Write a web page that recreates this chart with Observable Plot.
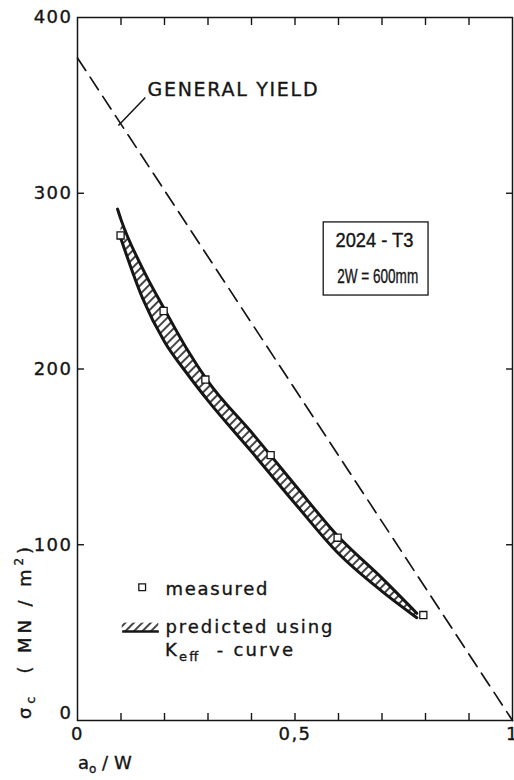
<!DOCTYPE html>
<html><head><meta charset="utf-8">
<script src="https://cdn.jsdelivr.net/npm/d3@7"></script>
<script src="https://cdn.jsdelivr.net/npm/@observablehq/plot@0.6"></script>
<style>
body{margin:0;background:#fff;}
g[aria-label$="tick label"] text{letter-spacing:1.5px;}
svg text{stroke:#151515;stroke-width:0.35px;}
</style>
</head><body><div id="chart"></div>
<script>
// Data
const bandX  = [0.1, 0.15, 0.2, 0.25, 0.3, 0.4, 0.5, 0.6, 0.7, 0.78];
const upperY = [285, 257, 234, 212, 193, 164, 134, 104.5, 81, 61];
const lowerY = [274, 240, 215.5, 198, 182, 153, 123.5, 95, 73.5, 58.5];
const upperStartX = 0.092, upperStartY = 291;
const measuredX = [0.099, 0.198, 0.294, 0.444, 0.598, 0.795];
const measuredY = [276, 233, 194, 151, 104, 60];
const yieldX = [0, 1];
const yieldY = [377, 0];
const xTickLabels = [0, 0.5, 1];
const yTickLabels = [100, 200, 300, 400];
const xMinorTicks = [0.1, 0.2, 0.3, 0.4, 0.5, 0.6, 0.7, 0.8, 0.9];
const yMinorTicks = [100, 200, 300];

const band = bandX.map((x, i) => ({x, lo: lowerY[i], hi: upperY[i]}));
const upperLine = [{x: upperStartX, y: upperStartY}, ...bandX.map((x, i) => ({x, y: upperY[i]}))];
const lowerLine = bandX.map((x, i) => ({x, y: lowerY[i]}));
const measured = measuredX.map((x, i) => ({x, y: measuredY[i]}));
const yieldLine = yieldX.map((x, i) => ({x, y: yieldY[i]}));

const ink = "#151515";
const fmt = d => d === 0.5 ? "0,5" : String(d);
const crv = "monotone-x";

const plot = Plot.plot({
  width: 514, height: 780,
  marginLeft: 77, marginRight: 2, marginTop: 17, marginBottom: 60,
  x: {domain: [0, 1]},
  y: {domain: [0, 400]},
  style: {fontFamily: "DejaVu Sans", fontSize: "18px", color: ink, background: "white", overflow: "visible"},
  marks: [
    Plot.frame({stroke: ink, strokeWidth: 1.5}),
    Plot.axisX({anchor: "bottom", ticks: xMinorTicks, tickSize: 7, dy: -7, tickFormat: () => "", label: null, strokeWidth: 1.4}),
    Plot.axisX({anchor: "top", ticks: xMinorTicks, tickSize: 7, dy: 7, tickFormat: () => "", label: null, strokeWidth: 1.4}),
    Plot.axisY({anchor: "left", ticks: yMinorTicks, tickSize: 7, dx: 7, tickFormat: () => "", label: null, strokeWidth: 1.4}),
    Plot.axisY({anchor: "right", ticks: yMinorTicks, tickSize: 7, dx: -7, tickFormat: () => "", label: null, strokeWidth: 1.4}),
    Plot.axisX({anchor: "bottom", ticks: xTickLabels, tickSize: 0, tickPadding: 7, tickFormat: fmt, label: null, fontSize: 18}),
    Plot.axisY({anchor: "left", ticks: yTickLabels, tickSize: 0, tickPadding: 5, label: null, fontSize: 18}),
    Plot.axisY({anchor: "left", ticks: [0], tickSize: 0, tickPadding: 5, dy: -7, label: null, fontSize: 18}),
    // general yield
    Plot.line(yieldLine, {x: "x", y: "y", stroke: ink, strokeWidth: 1.7, strokeDasharray: "15,8"}),
    Plot.link([0], {x1: 0.094, y1: 338.5, x2: 0.156, y2: 354.5, stroke: ink, strokeWidth: 1.5}),
    Plot.text(["GENERAL YIELD"], {x: 0.161, y: 358.8, text: d => d, textAnchor: "start", fontSize: 19, fill: ink}),
    // band
    Plot.areaY(band, {x: "x", y1: "lo", y2: "hi", fill: "url(#hatch)", curve: crv}),
    Plot.line(upperLine, {x: "x", y: "y", stroke: ink, strokeWidth: 3, curve: crv}),
    Plot.line(lowerLine, {x: "x", y: "y", stroke: ink, strokeWidth: 3, curve: crv}),
    Plot.dot(measured, {x: "x", y: "y", symbol: "square", r: 4, fill: "white", stroke: ink, strokeWidth: 1.3}),
    // material box
    Plot.rect([0], {x1: 0.566, x2: 0.807, y1: 241.8, y2: 283.4, fill: "none", stroke: ink, strokeWidth: 1.3}),
    Plot.text(["2024 - T3"], {x: 0.593, y: 272.8, text: d => d, textAnchor: "start", fontSize: 20, fontFamily: "Liberation Sans", fill: ink}),
    Plot.text(["2W = 600mm"], {x: 0.597, y: 252.3, text: d => d, textAnchor: "start", fontSize: 20, fontFamily: "Liberation Sans", fill: ink}),
    // legend
    Plot.dot([0], {x: 0.1487, y: 75.8, symbol: "square", r: 3.8, fill: "white", stroke: ink, strokeWidth: 1.3}),
    Plot.text(["measured"], {x: 0.2023, y: 74.5, text: d => d, textAnchor: "start", fontSize: 18, fill: ink}),
    Plot.rect([0], {x1: 0.1027, x2: 0.1869, y1: 50.4, y2: 55.4, fill: "url(#hatch)"}),
    Plot.link([0], {x1: 0.1027, y1: 50.6, x2: 0.1869, y2: 50.6, stroke: ink, strokeWidth: 2.5}),
    Plot.text(["predicted using"], {x: 0.2023, y: 53.3, text: d => d, textAnchor: "start", fontSize: 18, fill: ink})
  ]
});

const svg = d3.select(plot);
// hatch pattern
const defs = svg.insert("defs", ":first-child");
const pat = defs.append("pattern").attr("id", "hatch").attr("patternUnits", "userSpaceOnUse")
  .attr("width", 6).attr("height", 6).attr("patternTransform", "rotate(45)");
pat.append("line").attr("x1", 1).attr("y1", 0).attr("x2", 1).attr("y2", 6).attr("stroke", ink).attr("stroke-width", 1.6);

// stretch text widths to the reference lettering
const widths = {"GENERAL YIELD": [170, "spacing"], "measured": [102, "spacing"], "predicted using": [167, "spacing"],
  "2024 - T3": [78, "spacingAndGlyphs"], "2W = 600mm": [81, "spacingAndGlyphs"]};
svg.selectAll("text").each(function() {
  const w = widths[this.textContent];
  if (w) d3.select(this).attr("textLength", w[0]).attr("lengthAdjust", w[1]);
});

const sx = plot.scale("x"), sy = plot.scale("y");
// K_eff - curve
const k = svg.append("text").attr("x", sx.apply(0.2023)).attr("y", sy.apply(39.8)).attr("dy", "0.32em")
  .attr("text-anchor", "start").attr("font-size", 18).attr("fill", ink).attr("font-family", "DejaVu Sans")
  .attr("style", "white-space:pre").attr("textLength", 128).attr("lengthAdjust", "spacing");
k.append("tspan").text("K");
k.append("tspan").attr("font-size", 13).attr("dy", 5).text("eff");
k.append("tspan").attr("dy", -5).text("  - curve");

// y axis title
const yl = svg.append("text").attr("transform", "translate(31,719) rotate(-90)").attr("text-anchor", "start")
  .attr("font-size", 18).attr("fill", ink).attr("font-family", "DejaVu Sans").attr("style", "white-space:pre")
  .attr("textLength", 172).attr("lengthAdjust", "spacing");
yl.append("tspan").text("σ");
yl.append("tspan").attr("font-size", 13).attr("dy", 4).text("c");
yl.append("tspan").attr("dy", -4).text("  ( MN / m");
yl.append("tspan").attr("font-size", 12).attr("dy", -8).text("2");
yl.append("tspan").attr("dy", 8).text(")");

// x axis title
const xl = svg.append("text").attr("x", 78).attr("y", 769).attr("text-anchor", "start")
  .attr("font-size", 18).attr("fill", ink).attr("font-family", "DejaVu Sans").attr("style", "white-space:pre");
xl.append("tspan").text("a");
xl.append("tspan").attr("font-size", 12).attr("dy", 4).text("o");
xl.append("tspan").attr("dy", -4).text(" / W");

document.getElementById("chart").append(plot);
</script>
</body></html>
